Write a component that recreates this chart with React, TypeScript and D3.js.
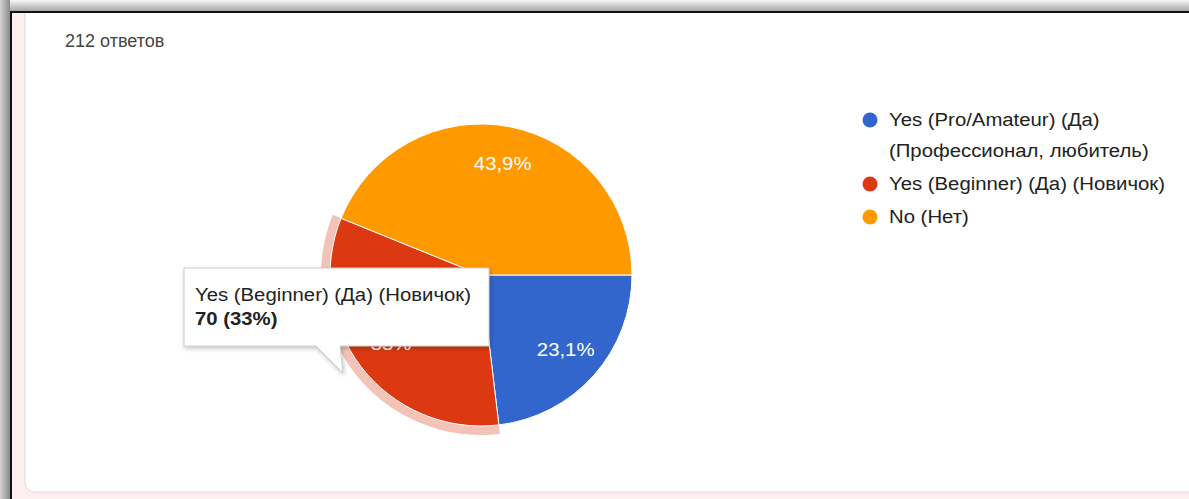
import React from "react";
import * as d3 from "d3";

const categories = [
  "Yes (Pro/Amateur) (Да) (Профессионал, любитель)",
  "Yes (Beginner) (Да) (Новичок)",
  "No (Нет)",
];
const legendLines = [
  ["Yes (Pro/Amateur) (Да)", "(Профессионал, любитель)"],
  ["Yes (Beginner) (Да) (Новичок)"],
  ["No (Нет)"],
];
const counts = [49, 70, 93];
const colors = ["#3366cc", "#dc3912", "#ff9900"];
const totalLabel = "212 ответов";
const hoveredIndex = 1;

const W = 1189;
const H = 499;
const SX = 1.13;

export default function App() {
  const total = d3.sum(counts);
  const cx = 481;
  const cy = 275;
  const r = 151;
  const pie = d3
    .pie<number>()
    .sort(null)
    .startAngle(Math.PI / 2)
    .endAngle(Math.PI / 2 + 2 * Math.PI);
  const arcs = pie(counts);
  const arc = d3.arc<d3.PieArcDatum<number>>().innerRadius(0).outerRadius(r);
  const ring = d3.arc<d3.PieArcDatum<number>>().innerRadius(r).outerRadius(r + 9);
  const labelArc = d3.arc<d3.PieArcDatum<number>>().innerRadius(r * 0.75).outerRadius(r * 0.75);
  const fmt = d3.format(".1~f");
  const pctLabel = (v: number) => fmt((v / total) * 100).replace(".", ",") + "%";
  const tipPct = d3.format(".0f");

  const legendY = [120, 184, 217];
  const font = "'Liberation Sans', Arial, sans-serif";

  const sText = (x: number, y: number, content: string, props: any = {}, key?: any) => (
    <g key={key} transform={`translate(${x},${y}) scale(${SX},1)`}>
      <text x={0} y={0} fontSize={18} {...props}>
        {content}
      </text>
    </g>
  );

  return (
    <svg
      width={W}
      height={H}
      style={{ position: "absolute", left: 0, top: 0, display: "block" }}
      fontFamily={font}
    >
      <defs>
        <linearGradient id="topShade" x1="0" y1="0" x2="0" y2="1">
          <stop offset="0" stopColor="#f6f6f6" />
          <stop offset="1" stopColor="#a0a0a0" />
        </linearGradient>
        <linearGradient id="leftShade" x1="0" y1="0" x2="1" y2="0">
          <stop offset="0" stopColor="#d4d4d4" />
          <stop offset="1" stopColor="#8a8a8a" />
        </linearGradient>
        <filter id="tipShadow" x="-10%" y="-20%" width="120%" height="150%">
          <feDropShadow dx="1" dy="2" stdDeviation="2" floodColor="#000" floodOpacity="0.25" />
        </filter>
      </defs>
      {/* page background */}
      <rect x={0} y={0} width={W} height={H} fill="#fbeff0" />
      {/* card */}
      <rect x={25} y={-20} width={W} height={512} rx={9} fill="#ffffff" stroke="#e2dada" />
      {/* frame shading */}
      <rect x={0} y={0} width={W} height={12} fill="url(#topShade)" />
      <rect x={0} y={0} width={10} height={H} fill="url(#leftShade)" />
      <rect x={10} y={11} width={W} height={2} fill="#111" />
      <rect x={10} y={11} width={2} height={H} fill="#111" />

      <text x={65} y={47} fontSize={18} fill="#444">
        {totalLabel}
      </text>

      {/* hover ring */}
      <path
        d={ring(arcs[hoveredIndex]) || ""}
        transform={`translate(${cx},${cy})`}
        fill={colors[hoveredIndex]}
        opacity={0.3}
      />
      <g transform={`translate(${cx},${cy})`}>
        {arcs.map((a, i) => (
          <path key={i} d={arc(a) || ""} fill={colors[i]} stroke="#ffffff" strokeWidth={1} />
        ))}
        {arcs.map((a, i) => {
          const [lx, ly] = labelArc.centroid(a);
          return sText(lx, ly, pctLabel(a.value), {
            textAnchor: "middle",
            dominantBaseline: "central",
            fill: "#ffffff",
          }, "l" + i);
        })}
      </g>

      {/* legend */}
      {legendLines.map((lines, i) => (
        <g key={"lg" + i}>
          <circle cx={870} cy={legendY[i]} r={7.5} fill={colors[i]} />
          {lines.map((t, j) => sText(889, legendY[i] + 6 + j * 31, t, { fill: "#222" }, j))}
        </g>
      ))}

      {/* tooltip */}
      <g filter="url(#tipShadow)">
        <path
          d="M184,268 H489 V346 H340 L343,373 L316,346 H184 Z"
          fill="#ffffff"
          stroke="#cccccc"
          strokeWidth={1}
        />
      </g>
      {sText(195, 301, categories[hoveredIndex], { fill: "#222" })}
      {sText(195, 325, `${counts[hoveredIndex]} (${tipPct((counts[hoveredIndex] / total) * 100)}%)`, {
        fill: "#222",
        fontWeight: "bold",
      })}
    </svg>
  );
}
